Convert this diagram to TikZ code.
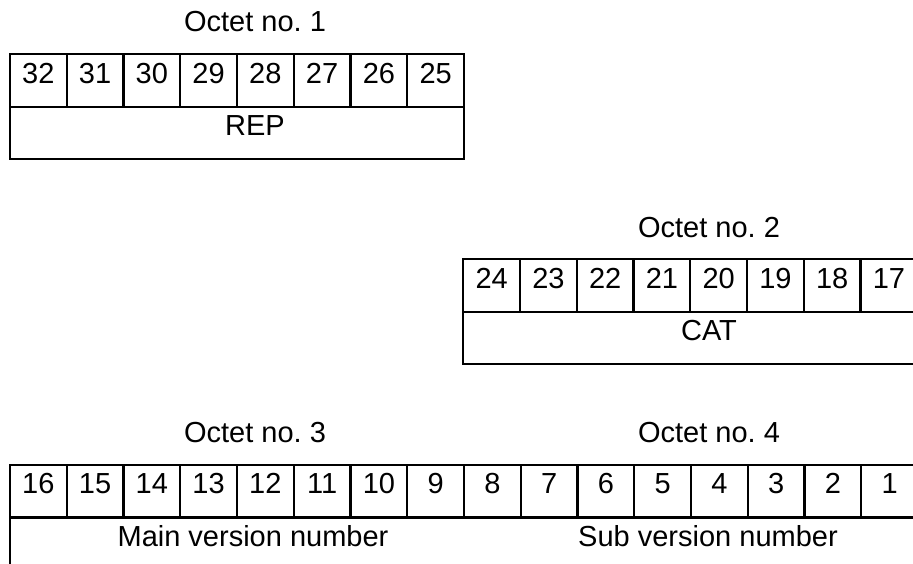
\documentclass[tikz,border=0pt]{standalone}
\usepackage{fontspec}
\setmainfont{Liberation Sans}
\frenchspacing
\begin{document}
\begin{tikzpicture}[x=1pt,y=-1pt,
  cell/.style={draw,line width=2.2pt,rectangle,minimum width=56.75pt,minimum height=52.5pt,inner sep=0pt,outer sep=0pt,anchor=north west},
  field/.style={cell,minimum width=454pt},
  txt/.style={font=\fontsize{29}{33}\selectfont,inner sep=0pt,anchor=base}]
\useasboundingbox (0,0) rectangle (913,563);
\clip (0,0) rectangle (913,563);
% Octet 1
\node[txt] (o1) at (255,31.7) {Octet no. 1};
\foreach \i in {0,...,7} {
  \pgfmathtruncatemacro\n{32-\i}
  \node[cell] (b\n) at ({10+56.75*\i},54.3) {};
  \node[txt] (t\n) at ([yshift=-28.8pt]b\n.north) {\n};
}
\node[field] (rep) at (10,106.8) {};
\node[txt] (rept) at (255,135.4) {REP};
% Octet 2
\node[txt] (o2) at (709,237) {Octet no. 2};
\foreach \i in {0,...,7} {
  \pgfmathtruncatemacro\n{24-\i}
  \node[cell] (b\n) at ({463.3+56.75*\i},259.3) {};
  \node[txt] (t\n) at ([yshift=-28.8pt]b\n.north) {\n};
}
\node[field] (cat) at (463.3,311.8) {};
\node[txt] (catt) at (709,340.4) {CAT};
% Octets 3 and 4
\node[txt] (o3) at (255,442.4) {Octet no. 3};
\node[txt] (o4) at (709,442.4) {Octet no. 4};
\foreach \i in {0,...,15} {
  \pgfmathtruncatemacro\n{16-\i}
  \node[cell] (b\n) at ({10+56.75*\i},465) {};
  \node[txt] (t\n) at ([yshift=-28.8pt]b\n.north) {\n};
}
\node[field,minimum width=908pt] (ver) at (10,517.5) {};
\node[txt] (main) at (253,546) {Main version number};
\node[txt] (sub) at (708,546) {Sub version number};
\end{tikzpicture}
\end{document}
